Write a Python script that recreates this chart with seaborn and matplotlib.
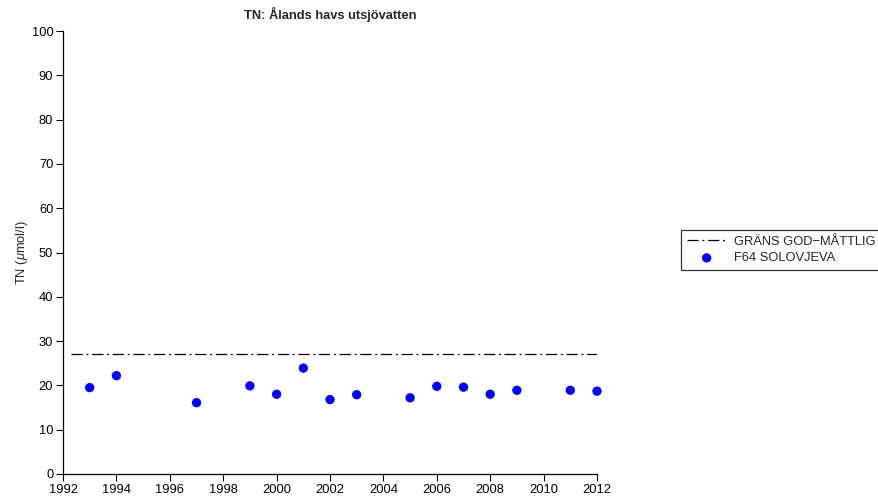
import matplotlib
matplotlib.use('Agg')
import matplotlib.pyplot as plt
import seaborn as sns
import pandas as pd

years = [1993, 1994, 1997, 1999, 2000, 2001, 2002, 2003, 2005, 2006, 2007, 2008, 2009, 2011, 2012]
tn = [19.5, 22.2, 16.1, 19.9, 18.0, 23.9, 16.8, 17.9, 17.2, 19.8, 19.6, 18.0, 18.9, 18.9, 18.7]
limit_years = [1992.3, 2012]
limit_vals = [27, 27]
x_ticks = list(range(1992, 2013, 2))
y_ticks = list(range(0, 101, 10))

sns.set_style('ticks')
plt.rcParams['font.family'] = ['Liberation Sans', 'DejaVu Sans']
plt.rcParams['mathtext.fontset'] = 'custom'
plt.rcParams['mathtext.it'] = 'Liberation Sans:italic'
plt.rcParams['mathtext.rm'] = 'Liberation Sans'

points = pd.DataFrame({'year': years, 'tn': tn})
limit = pd.DataFrame({'year': limit_years, 'tn': limit_vals})

fig = plt.figure(figsize=(8.79, 5), dpi=100)
ax = fig.add_axes([63/879, 1 - 474/500, (597-63)/879, (474-31)/500])

sns.lineplot(data=limit, x='year', y='tn', ax=ax, color='black', lw=0.9,
             linestyle=(0, (9, 3, 1.5, 3)), label='GRÄNS GOD\u2212MÅTTLIG')
sns.scatterplot(data=points, x='year', y='tn', ax=ax, color='#0000ff', s=45,
                edgecolor='none', label='F64 SOLOVJEVA', clip_on=False, zorder=3)

ax.set_xlim(1992, 2012)
ax.set_ylim(0, 100)
ax.set_xticks(x_ticks)
ax.set_yticks(y_ticks)
ax.tick_params(labelsize=9.3, length=5, width=0.8, direction='out', colors='black', pad=2)
for s in ['left', 'bottom']:
    ax.spines[s].set_linewidth(0.9)
    ax.spines[s].set_color('black')
sns.despine(ax=ax)
ax.set_xlabel('')
ax.set_ylabel(r'TN ($\mu$mol/l)', fontsize=9.3, labelpad=1)
ax.set_title('TN: Ålands havs utsjövatten', fontsize=9.3, fontweight='bold', pad=9)

handles, labels = ax.get_legend_handles_labels()
ax.legend_.remove()
leg = fig.legend(handles, labels, loc='center left', bbox_to_anchor=(675/879, 0.5),
                 fontsize=9.3, frameon=True, fancybox=False, edgecolor='black',
                 borderpad=0.45, handlelength=3.0, handletextpad=0.6, labelspacing=0.35)
leg.get_frame().set_linewidth(0.9)

fig.savefig('out.png', dpi=100)
